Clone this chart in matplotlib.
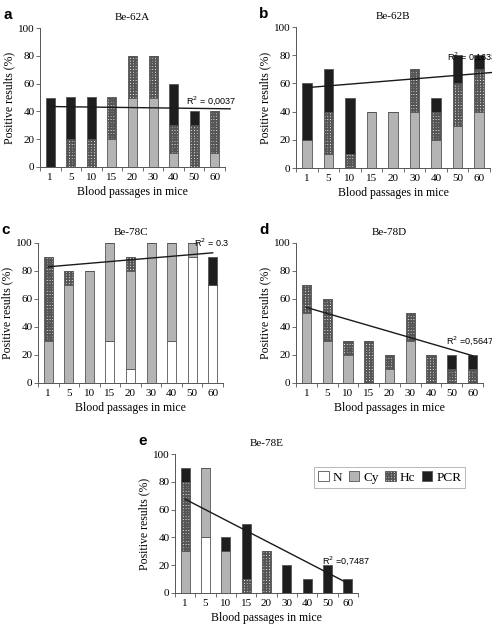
import numpy as np
import matplotlib
matplotlib.use("Agg")
from matplotlib import pyplot as plt
from matplotlib.patches import Patch

plt.rcParams["font.family"] = ["Liberation Serif", "DejaVu Serif"]
plt.rcParams["hatch.linewidth"] = 1.3
plt.rcParams["hatch.color"] = "#2a2a2a"

passages = ["1", "5", "10", "15", "20", "30", "40", "50", "60"]
layers = ["N", "Cy", "Hc", "PCR"]

# values per layer (bottom to top): N, Cy, Hc, PCR
a_N = [0, 0, 0, 0, 0, 0, 0, 0, 0]
a_Cy = [0, 0, 0, 20, 50, 50, 10, 0, 10]
a_Hc = [0, 20, 20, 30, 30, 30, 20, 30, 30]
a_PCR = [50, 30, 30, 0, 0, 0, 30, 10, 0]

b_N = [0, 0, 0, 0, 0, 0, 0, 0, 0]
b_Cy = [20, 10, 0, 40, 40, 40, 20, 30, 40]
b_Hc = [0, 30, 10, 0, 0, 30, 20, 30, 30]
b_PCR = [40, 30, 40, 0, 0, 0, 10, 20, 10]

c_N = [0, 0, 0, 30, 10, 0, 30, 90, 70]
c_Cy = [30, 70, 80, 70, 70, 100, 70, 10, 0]
c_Hc = [60, 10, 0, 0, 10, 0, 0, 0, 0]
c_PCR = [0, 0, 0, 0, 0, 0, 0, 0, 20]

d_N = [0, 0, 0, 0, 0, 0, 0, 0, 0]
d_Cy = [50, 30, 20, 0, 10, 30, 0, 0, 0]
d_Hc = [20, 30, 10, 30, 10, 20, 20, 10, 10]
d_PCR = [0, 0, 0, 0, 0, 0, 0, 10, 10]

e_N = [0, 40, 0, 0, 0, 0, 0, 0, 0]
e_Cy = [30, 50, 30, 0, 0, 0, 0, 0, 0]
e_Hc = [50, 0, 0, 10, 30, 0, 0, 0, 0]
e_PCR = [10, 0, 10, 40, 0, 20, 10, 20, 10]

# trend lines (value at first and last category) and R² text
trend_a = [43.5, 42.0]
trend_b = [57.0, 67.0]
trend_c = [83.0, 93.0]
trend_d = [54.0, 19.5]
trend_e = [67.5, 7.0]
r2_labels = ["R$^2$ = 0,0037", "R$^2$ = 0,1633", "R$^2$ = 0.3", "R$^2$ =0,5647", "R$^2$ =0,7487"]
titles = ["Be-62A", "Be-62B", "Be-78C", "Be-78D", "Be-78E"]
letters = ["a", "b", "c", "d", "e"]

fills = {"N": "white", "Cy": "#b4b4b4", "Hc": "white", "PCR": "#1e1e1e"}
hatches = {"N": None, "Cy": None, "Hc": "++++++", "PCR": None}

W, H = 492, 633
fig = plt.figure(figsize=(W / 100, H / 100), dpi=100)

# axes boxes in pixels: left, top, right, bottom
boxes = [(40, 28, 225, 167), (296, 27, 490, 168), (38, 243, 223, 383),
         (296, 243, 483, 383), (175, 454, 358, 593)]
panels = [(a_N, a_Cy, a_Hc, a_PCR), (b_N, b_Cy, b_Hc, b_PCR), (c_N, c_Cy, c_Hc, c_PCR),
          (d_N, d_Cy, d_Hc, d_PCR), (e_N, e_Cy, e_Hc, e_PCR)]
trends = [trend_a, trend_b, trend_c, trend_d, trend_e]
trend_xend = [8.75, 8.9, 8, 8, 8]
r2_pos = [(6.6, 48), (6.5, 79), (7.1, 100), (6.7, 30), (6.75, 23)]

x = np.arange(len(passages))
for i in range(5):
    l, t, r, b = boxes[i]
    ax = fig.add_axes([l / W, 1 - b / H, (r - l) / W, (b - t) / H])
    bottom = np.zeros(len(passages))
    for name, vals in zip(layers, panels[i]):
        vals = np.array(vals, dtype=float)
        ax.bar(x, vals, width=0.44, bottom=bottom, color=fills[name], hatch=hatches[name],
               edgecolor="#555555", linewidth=0.6, zorder=2)
        bottom += vals
    # trend line
    y0, y1 = trends[i]
    slope = (y1 - y0) / 8
    xe = trend_xend[i]
    ax.plot([0, xe], [y0, y0 + slope * xe], color="#1a1a1a", lw=1.0, zorder=3, clip_on=False)
    ax.text(r2_pos[i][0], r2_pos[i][1], r2_labels[i], family=["Liberation Sans"], fontsize=6.5,
            va="center", ha="left", zorder=4, clip_on=False)

    ax.set_xlim(-0.5, 8.5)
    ax.set_ylim(0, 100)
    ax.set_yticks(range(0, 101, 20))
    ax.set_xticks(x)
    ax.set_xticklabels(passages)
    ax.set_xticks(np.arange(-0.5, 9, 1), minor=True)
    ax.tick_params(axis="x", which="major", length=0, labelsize=8, pad=4)
    ax.tick_params(axis="x", which="minor", length=3, width=0.6, color="#555555")
    ax.tick_params(axis="y", length=3, width=0.6, color="#555555", labelsize=8, pad=1)
    for s in ["top", "right"]:
        ax.spines[s].set_visible(False)
    for s in ["left", "bottom"]:
        ax.spines[s].set_color("#555555")
        ax.spines[s].set_linewidth(0.7)
    ax.set_xlabel("Blood passages in mice", fontsize=8.5, labelpad=3)
    ax.set_ylabel("Positive results (%)", fontsize=8.5, labelpad=2)
    ax.set_title(titles[i], fontsize=8, pad=6)
    fig.text((l - 37) / W, 1 - (t - 13) / H, letters[i], family=["Liberation Sans"],
             fontsize=11, fontweight="bold", va="center", ha="left")

    if i == 4:
        handles = [Patch(facecolor=fills[n], hatch=hatches[n], edgecolor="#555555", linewidth=0.6)
                   for n in layers]
        leg = ax.legend(handles, layers, ncol=4, loc="upper left", bbox_to_anchor=((314 - l) / (r - l), 1 - (467 - t) / (b - t)),
                        fontsize=9.5, handlelength=0.8, handleheight=0.8, handletextpad=0.3,
                        columnspacing=0.5, borderpad=0.3, borderaxespad=0, fancybox=False,
                        frameon=True, edgecolor="#999999")
        leg.get_frame().set_linewidth(0.6)

fig.savefig("out.png", dpi=100)
